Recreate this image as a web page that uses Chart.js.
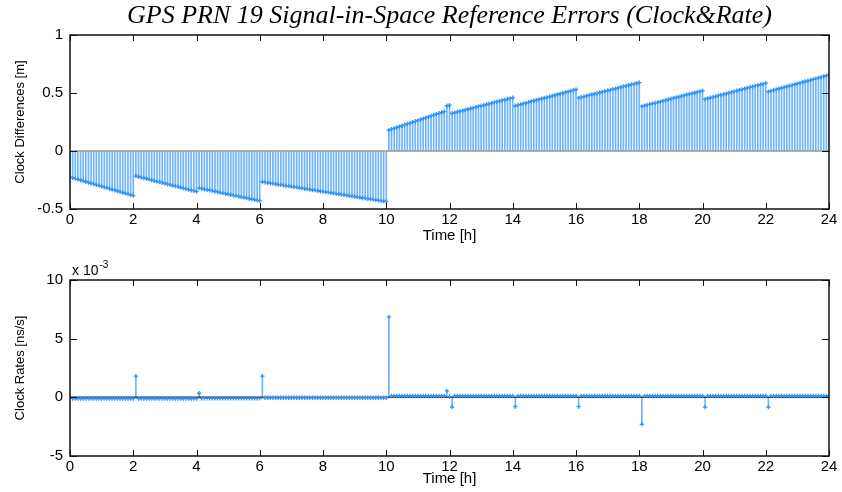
<!DOCTYPE html>
<html>
<head>
<meta charset="utf-8">
<script src="https://cdn.jsdelivr.net/npm/chart.js@4/dist/chart.umd.min.js"></script>
<style>
  body { margin: 0; background: #fff; }
  #wrap { position: relative; width: 842px; height: 492px; }
  canvas { position: absolute; left: 0; }
</style>
</head>
<body>
<div id="wrap">
  <canvas id="diffChart" width="842" height="250" style="top:0"></canvas>
  <canvas id="rateChart" width="842" height="242" style="top:250px"></canvas>
</div>
<script>
// Amostragem de 5 minutos, 0h a 24h
const stepMinutes = 5;

// Diferenças de relógio [m], um bloco por carga de efemérides
const clockA = [-0.225, -0.232, -0.238, -0.245, -0.252, -0.258, -0.265, -0.272, -0.278, -0.285, -0.292, -0.298,
  -0.305, -0.312, -0.318, -0.325, -0.332, -0.338, -0.345, -0.352, -0.358, -0.365, -0.372, -0.378, -0.385];
const clockB = [-0.216, -0.222, -0.228, -0.233, -0.239, -0.245, -0.251, -0.257, -0.263, -0.268, -0.274, -0.280,
  -0.286, -0.292, -0.298, -0.303, -0.309, -0.315, -0.321, -0.327, -0.333, -0.338, -0.344, -0.350];
const clockC = [-0.320, -0.325, -0.330, -0.334, -0.339, -0.344, -0.349, -0.353, -0.358, -0.363, -0.368, -0.373,
  -0.377, -0.382, -0.387, -0.392, -0.397, -0.401, -0.406, -0.411, -0.416, -0.420, -0.425, -0.430];
const clockD = [-0.267, -0.271, -0.274, -0.278, -0.281, -0.285, -0.289, -0.292, -0.296, -0.300, -0.303, -0.307,
  -0.310, -0.314, -0.318, -0.321, -0.325, -0.328, -0.332, -0.336, -0.339, -0.343, -0.347, -0.350,
  -0.354, -0.357, -0.361, -0.365, -0.368, -0.372, -0.376, -0.379, -0.383, -0.386, -0.390, -0.394,
  -0.397, -0.401, -0.405, -0.408, -0.412, -0.415, -0.419, -0.423, -0.426, -0.430, -0.433, -0.437];
const clockE = [0.180, 0.188, 0.195, 0.203, 0.210, 0.218, 0.226, 0.233, 0.241, 0.249, 0.256, 0.264,
  0.271, 0.279, 0.287, 0.294, 0.302, 0.310, 0.317, 0.325, 0.332, 0.340];
const clockF = [0.390, 0.395];
const clockG = [0.325, 0.331, 0.337, 0.343, 0.348, 0.354, 0.360, 0.366, 0.372, 0.378, 0.384, 0.390,
  0.395, 0.401, 0.407, 0.413, 0.419, 0.425, 0.431, 0.437, 0.442, 0.448, 0.454, 0.460];
const clockH = [0.390, 0.396, 0.402, 0.408, 0.414, 0.420, 0.427, 0.433, 0.439, 0.445, 0.451, 0.457,
  0.463, 0.469, 0.475, 0.481, 0.487, 0.494, 0.500, 0.506, 0.512, 0.518, 0.524, 0.530];
const clockI = [0.458, 0.464, 0.469, 0.475, 0.481, 0.487, 0.492, 0.498, 0.504, 0.510, 0.515, 0.521,
  0.527, 0.533, 0.538, 0.544, 0.550, 0.556, 0.561, 0.567, 0.573, 0.579, 0.584, 0.590];
const clockJ = [0.385, 0.391, 0.397, 0.403, 0.408, 0.414, 0.420, 0.426, 0.432, 0.438, 0.444, 0.450,
  0.455, 0.461, 0.467, 0.473, 0.479, 0.485, 0.491, 0.497, 0.502, 0.508, 0.514, 0.520];
const clockK = [0.447, 0.453, 0.459, 0.465, 0.471, 0.477, 0.483, 0.489, 0.495, 0.501, 0.507, 0.513,
  0.519, 0.525, 0.531, 0.537, 0.543, 0.549, 0.555, 0.561, 0.567, 0.573, 0.579, 0.585];
const clockL = [0.512, 0.518, 0.524, 0.531, 0.537, 0.543, 0.549, 0.556, 0.562, 0.568, 0.574, 0.580,
  0.587, 0.593, 0.599, 0.605, 0.611, 0.618, 0.624, 0.630, 0.636, 0.643, 0.649, 0.655];

// Taxas de relógio [ns/s], em unidades de 10^-3
const rateA = [0, -0.1, -0.1, -0.1, -0.1, -0.1, -0.1, -0.1, -0.1, -0.1, -0.1, -0.1, -0.1,
  -0.1, -0.1, -0.1, -0.1, -0.1, -0.1, -0.1, -0.1, -0.1, -0.1, -0.1, -0.1];
const rateB = [1.8, -0.1, -0.1, -0.1, -0.1, -0.1, -0.1, -0.1, -0.1, -0.1, -0.1, -0.1, -0.1,
  -0.1, -0.1, -0.1, -0.1, -0.1, -0.1, -0.1, -0.1, -0.1, -0.1, -0.1];
const rateC = [0.35, -0.09, -0.09, -0.09, -0.09, -0.09, -0.09, -0.09, -0.09, -0.09, -0.09, -0.09, -0.09,
  -0.09, -0.09, -0.09, -0.09, -0.09, -0.09, -0.09, -0.09, -0.09, -0.09, -0.09];
const rateD = [1.8, -0.04, -0.04, -0.04, -0.04, -0.04, -0.04, -0.04, -0.04, -0.04, -0.04, -0.04, -0.04,
  -0.04, -0.04, -0.04, -0.04, -0.04, -0.04, -0.04, -0.04, -0.04, -0.04, -0.04, -0.04,
  -0.04, -0.04, -0.04, -0.04, -0.04, -0.04, -0.04, -0.04, -0.04, -0.04, -0.04, -0.04,
  -0.04, -0.04, -0.04, -0.04, -0.04, -0.04, -0.04, -0.04, -0.04, -0.04, -0.04];
const rateE = [6.85, 0.12, 0.12, 0.12, 0.12, 0.12, 0.12, 0.12, 0.12, 0.12, 0.12, 0.12,
  0.12, 0.12, 0.12, 0.12, 0.12, 0.12, 0.12, 0.12, 0.12, 0.12];
const rateF = [0.55, 0.05];
const rateG = [-0.83, 0.12, 0.12, 0.12, 0.12, 0.12, 0.12, 0.12, 0.12, 0.12, 0.12, 0.12, 0.12,
  0.12, 0.12, 0.12, 0.12, 0.12, 0.12, 0.12, 0.12, 0.12, 0.12, 0.12];
const rateH = [-0.8, 0.12, 0.12, 0.12, 0.12, 0.12, 0.12, 0.12, 0.12, 0.12, 0.12, 0.12, 0.12,
  0.12, 0.12, 0.12, 0.12, 0.12, 0.12, 0.12, 0.12, 0.12, 0.12, 0.12];
const rateI = [-0.8, 0.12, 0.12, 0.12, 0.12, 0.12, 0.12, 0.12, 0.12, 0.12, 0.12, 0.12, 0.12,
  0.12, 0.12, 0.12, 0.12, 0.12, 0.12, 0.12, 0.12, 0.12, 0.12, 0.12];
const rateJ = [-2.3, 0.12, 0.12, 0.12, 0.12, 0.12, 0.12, 0.12, 0.12, 0.12, 0.12, 0.12, 0.12,
  0.12, 0.12, 0.12, 0.12, 0.12, 0.12, 0.12, 0.12, 0.12, 0.12, 0.12];
const rateK = [-0.83, 0.12, 0.12, 0.12, 0.12, 0.12, 0.12, 0.12, 0.12, 0.12, 0.12, 0.12, 0.12,
  0.12, 0.12, 0.12, 0.12, 0.12, 0.12, 0.12, 0.12, 0.12, 0.12, 0.12];
const rateL = [-0.83, 0.12, 0.12, 0.12, 0.12, 0.12, 0.12, 0.12, 0.12, 0.12, 0.12, 0.12, 0.12,
  0.12, 0.12, 0.12, 0.12, 0.12, 0.12, 0.12, 0.12, 0.12, 0.12, 0.12];

const hourTicks = [0, 2, 4, 6, 8, 10, 12, 14, 16, 18, 20, 22, 24];
const diffTicks = [-0.5, 0, 0.5, 1];
const rateTicks = [-5, 0, 5, 10];

const clockDiff = [].concat(clockA, clockB, clockC, clockD, clockE, clockF, clockG, clockH, clockI, clockJ, clockK, clockL);
const clockRate = [].concat(rateA, rateB, rateC, rateD, rateE, rateF, rateG, rateH, rateI, rateJ, rateK, rateL);
const epochs = clockDiff.map((v, k) => k * stepMinutes / 60);

Chart.defaults.font.family = '"Liberation Sans", Arial, sans-serif';
Chart.defaults.color = '#000';

// Caixa estilo MATLAB com marcas para dentro
const boxTicks = {
  id: 'boxTicks',
  afterDraw(chart) {
    const { ctx, chartArea: a, scales: { x, y } } = chart;
    ctx.save();
    ctx.strokeStyle = '#111';
    ctx.lineWidth = 1;
    ctx.beginPath();
    x.ticks.forEach(t => {
      const px = Math.round(x.getPixelForValue(t.value)) + 0.5;
      ctx.moveTo(px, a.bottom); ctx.lineTo(px, a.bottom - 6);
      ctx.moveTo(px, a.top); ctx.lineTo(px, a.top + 6);
    });
    y.ticks.forEach(t => {
      const py = Math.round(y.getPixelForValue(t.value)) + 0.5;
      ctx.moveTo(a.left, py); ctx.lineTo(a.left + 7, py);
      ctx.moveTo(a.right, py); ctx.lineTo(a.right - 7, py);
    });
    ctx.stroke();
    ctx.lineWidth = 1.5;
    ctx.strokeRect(a.left, a.top, a.width, a.height);
    const exp = chart.options.plugins.boxTicks && chart.options.plugins.boxTicks.exponent;
    if (exp) {
      ctx.fillStyle = '#000';
      ctx.textBaseline = 'alphabetic';
      ctx.font = '14px "Liberation Sans", Arial, sans-serif';
      ctx.fillText('x 10', a.left + 2, a.top - 5);
      const w = ctx.measureText('x 10').width;
      ctx.font = '10px "Liberation Sans", Arial, sans-serif';
      ctx.fillText(exp, a.left + 3 + w, a.top - 12);
    }
    ctx.restore();
  }
};

function stemChart(id, values, cfg) {
  const pts = values.map((v, k) => ({ x: epochs[k], y: v }));
  return new Chart(document.getElementById(id), {
    type: 'bar',
    data: {
      datasets: [
        { type: 'bar', data: pts, backgroundColor: '#6fb4fb', borderWidth: 0, barThickness: 1, order: 3 },
        { type: 'line', data: [{ x: 0, y: 0 }, { x: 24, y: 0 }], borderColor: cfg.baseColor, borderWidth: 1.5,
          pointRadius: 0, order: 2 },
        { type: 'line', data: pts, showLine: false, pointStyle: 'cross', pointRadius: 2.2,
          pointBorderWidth: 1.3, pointBorderColor: '#3393f5', pointBackgroundColor: '#3393f5', order: 1 }
      ]
    },
    options: {
      responsive: false,
      animation: false,
      devicePixelRatio: 1,
      layout: { padding: { top: cfg.padTop, right: 13, left: 0, bottom: 0 } },
      plugins: {
        legend: { display: false },
        tooltip: { enabled: false },
        title: cfg.title,
        boxTicks: { exponent: cfg.exponent }
      },
      scales: {
        x: {
          type: 'linear', min: 0, max: 24, offset: false,
          afterBuildTicks: s => { s.ticks = hourTicks.map(v => ({ value: v })); },
          ticks: { font: { size: 15 }, padding: 2, maxRotation: 0, autoSkip: false, callback: v => String(v) },
          grid: { display: false, drawTicks: false },
          border: { display: false },
          title: { display: true, text: 'Time [h]', font: { size: 15 }, padding: { top: 0, bottom: cfg.xTitlePad } },
          afterFit: s => { s.height = cfg.xHeight; }
        },
        y: {
          min: cfg.yTicks[0], max: cfg.yTicks[cfg.yTicks.length - 1],
          afterBuildTicks: s => { s.ticks = cfg.yTicks.map(v => ({ value: v })); },
          ticks: { font: { size: 15 }, padding: 7, callback: v => String(v) },
          grid: { display: false, drawTicks: false },
          border: { display: false },
          title: { display: true, text: cfg.yLabel, font: { size: 13 }, padding: { top: 13, bottom: 0 } },
          afterFit: s => { s.width = 70; }
        }
      }
    },
    plugins: [boxTicks]
  });
}

stemChart('diffChart', clockDiff, {
  yTicks: diffTicks,
  yLabel: 'Clock Differences [m]',
  baseColor: '#9a9a9a',
  padTop: 0,
  xHeight: 41,
  xTitlePad: 5,
  title: {
    display: true,
    text: 'GPS PRN 19 Signal-in-Space Reference Errors (Clock&Rate)',
    fullSize: false,
    color: '#000',
    font: { family: '"Liberation Serif", "Times New Roman", serif', style: 'italic', size: 26, weight: 'normal', lineHeight: 1.2 },
    padding: { top: 1, bottom: 2.8 }
  }
});

stemChart('rateChart', clockRate, {
  yTicks: rateTicks,
  yLabel: 'Clock Rates [ns/s]',
  baseColor: '#3a3a3a',
  padTop: 30,
  xHeight: 36,
  xTitlePad: 4,
  exponent: '-3',
  title: { display: false }
});
</script>
</body>
</html>
